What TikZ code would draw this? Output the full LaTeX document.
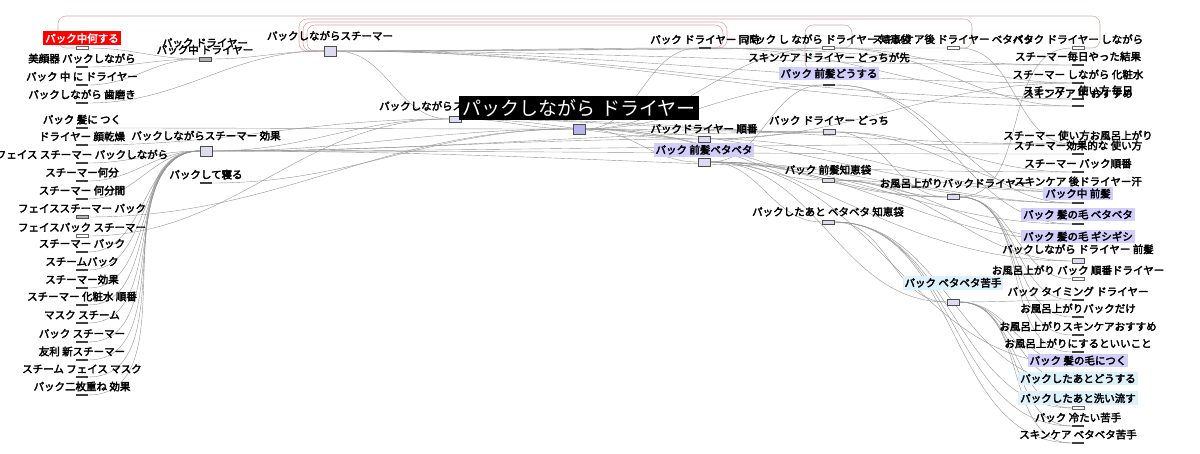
\documentclass[tikz,border=0pt]{standalone}
\usepackage{fontspec}
\newfontfamily\jp{Noto Sans CJK JP}[AutoFakeBold=3]
\usetikzlibrary{positioning}
\pgfdeclarelayer{back}
\pgfsetlayers{back,main}
\definecolor{lav}{HTML}{DCDCF0}
\definecolor{lavdark}{HTML}{B6B2EE}
\definecolor{hilite}{HTML}{D2CEFB}
\definecolor{aqua}{HTML}{DDF1FA}
\definecolor{pinkline}{HTML}{D9A2A2}

\begin{document}
\begin{tikzpicture}[x=1pt, y=-1pt,
        kw/.style={font=\jp\bfseries\fontsize{10.5}{10.5}\selectfont, inner sep=1pt},
        hl/.style={kw, fill=hilite, inner sep=2pt},
        hlc/.style={kw, fill=aqua, inner sep=2pt},
        hot/.style={kw, fill=red, text=white, inner sep=2pt},
        lead/.style={font=\jp\fontsize{19}{19}\selectfont, fill=black, text=white, inner sep=3pt},
        bar/.style={fill=black!75, minimum width=12pt, minimum height=2.5pt, inner sep=0pt},
        hollow/.style={draw=black!60, fill=white, minimum width=12pt, minimum height=3pt, inner sep=0pt},
        dim/.style={draw=black!70, fill=black!30, minimum width=12pt, minimum height=#1, inner sep=0pt},
        dim/.default=4pt,
        hub/.style={draw=black!70, fill=lav, minimum width=12pt, minimum height=#1, inner sep=0pt},
        hub/.default=10pt,
        link/.style={draw=black!42, line width=.4pt, out=0, in=180},
        loopline/.style={draw=pinkline, line width=.55pt, rounded corners=8pt}]
    \useasboundingbox (0,0) rectangle (1200,454);

    % left column
    \node (m1) [hollow] at (82,48) {};
    \node (m2) [bar] at (82,67) {};
    \node (m3) [bar] at (82,85) {};
    \node (m4) [bar] at (82,103) {};
    \node (m5) [bar] at (82,128) {};
    \node (m6) [bar] at (82,145) {};
    \node (m7) [bar] at (82,163) {};
    \node (m8) [bar] at (82,181) {};
    \node (m9) [bar] at (82,199) {};
    \node (m10) [dim=3pt] at (82,217) {};
    \node (m11) [hollow] at (82,236) {};
    \node (m12) [bar] at (82,252) {};
    \node (m13) [bar] at (82,270) {};
    \node (m14) [bar] at (82,288) {};
    \node (m15) [bar] at (82,305) {};
    \node (m16) [bar] at (82,323) {};
    \node (m17) [bar] at (82,342) {};
    \node (m18) [bar] at (82,360) {};
    \node (m19) [bar] at (82,377) {};
    \node (m20) [bar] at (82,395) {};

    % middle
    \node (m21) [dim] at (205,59) {};
    \node (m22) [hub] at (206,151) {};
    \node (m23) [bar] at (206,183) {};
    \node (m24) [hub] at (330,51) {};
    \node (m25) [hub=6pt] at (455,119) {};
    \node (m26) [hub, fill=lavdark] at (579,129) {};
    \node (m27) [hub=6pt] at (704,139) {};
    \node (m28) [hub=8pt] at (704,162) {};
    \node (m29) [bar] at (705,48) {};
    \node (m30) [hollow] at (828,48) {};
    \node (m31) [bar] at (829,70) {};
    \node (m32) [bar] at (829,85) {};
    \node (m33) [hub=5pt] at (829,132) {};
    \node (m34) [hollow] at (953,48) {};
    \node (m35) [hollow] at (1078,48) {};
    \node (m36) [hub=4pt] at (828,180) {};
    \node (m37) [hub=4pt] at (828,222) {};
    \node (m38) [hub=5pt] at (953,197) {};
    \node (m39) [hub=6pt] at (953,302) {};

    % right column
    \node (m40) [bar] at (1078,65) {};
    \node (m41) [bar] at (1078,83) {};
    \node (m42) [bar] at (1078,99) {};
    \node (m43) [bar] at (1078,106) {};
    \node (m44) [bar] at (1078,144) {};
    \node (m45) [bar] at (1078,154) {};
    \node (m46) [bar] at (1078,172) {};
    \node (m47) [bar] at (1078,192) {};
    \node (m48) [bar] at (1078,203) {};
    \node (m49) [bar] at (1078,224) {};
    \node (m50) [bar] at (1078,240) {};
    \node (m51) [hub=5pt] at (1078,261) {};
    \node (m52) [hollow] at (1078,279) {};
    \node (m53) [bar] at (1078,300) {};
    \node (m54) [bar] at (1078,317) {};
    \node (m55) [bar] at (1078,335) {};
    \node (m56) [bar] at (1078,352) {};
    \node (m57) [bar] at (1078,364) {};
    \node (m58) [bar] at (1078,382) {};
    \node (m59) [hollow] at (1078,408) {};
    \node (m60) [bar] at (1078,426) {};
    \node (m61) [bar] at (1078,443) {};

    % labels
    \node (t1) [hot, above=1pt of m1] {パック中何する};
    \node (t2) [kw, above=1pt of m2] {美顔器 パックしながら};
    \node (t3) [kw, above=1pt of m3] {パック 中 に ドライヤー};
    \node (t4) [kw, above=1pt of m4] {パックしながら 歯磨き};
    \node (t5) [kw, above=1pt of m5] {パック 髪に つく};
    \node (t6) [kw, above=1pt of m6] {ドライヤー 顔乾燥};
    \node (t7) [kw, above=1pt of m7] {フェイス スチーマー パックしながら};
    \node (t8) [kw, above=1pt of m8] {スチーマー何分};
    \node (t9) [kw, above=1pt of m9] {スチーマー 何分間};
    \node (t10) [kw, above=1pt of m10] {フェイススチーマー パック};
    \node (t11) [kw, above=1pt of m11] {フェイスパック スチーマー};
    \node (t12) [kw, above=1pt of m12] {スチーマー パック};
    \node (t13) [kw, above=1pt of m13] {スチームパック};
    \node (t14) [kw, above=1pt of m14] {スチーマー効果};
    \node (t15) [kw, above=1pt of m15] {スチーマー 化粧水 順番};
    \node (t16) [kw, above=1pt of m16] {マスク スチーム};
    \node (t17) [kw, above=1pt of m17] {パック スチーマー};
    \node (t18) [kw, above=1pt of m18] {友利 新スチーマー};
    \node (t19) [kw, above=1pt of m19] {スチーム フェイス マスク};
    \node (t20) [kw, above=1pt of m20] {パック二枚重ね 効果};

    \node (t21) [kw, above=1pt of m21] {パック中 ドライヤー};
    \node (t21b) [kw, above=-5pt of t21] {パック ドライヤー};
    \node (t22) [kw, above=4pt of m22] {パックしながらスチーマー 効果};
    \node (t23) [kw, above=1pt of m23] {パックして寝る};
    \node (t24) [kw, above=4pt of m24] {パックしながらスチーマー};
    \node (t25) [kw, anchor=west] at (378,106) {パックしながらスキンケア};
    \node (t26) [lead, above=4pt of m26] {パックしながら\hspace{.3em}ドライヤー};
    \node (t27) [kw, above=1pt of m27] {パックドライヤー 順番};
    \node (t28) [hl, above=1pt of m28] {パック 前髪ベタベタ};
    \node (t29) [kw, above=1pt of m29] {パック ドライヤー 同時};
    \node (t30) [kw, above=1pt of m30] {パック し ながら ドライヤー 知恵袋};
    \node (t34) [kw, above=1pt of m34] {スキンケア後 ドライヤー ベタベタ};
    \node (t35) [kw, above=1pt of m35] {パック ドライヤー しながら};
    \node (t31) [kw, above=5pt of m31] {スキンケア ドライヤー どっちが先};
    \node (t32) [hl, above=3pt of m32] {パック 前髪どうする};
    \node (t33) [kw, above=3pt of m33] {パック ドライヤー どっち};
    \node (t36) [kw, above=2pt of m36] {パック 前髪知恵袋};
    \node (t37) [kw, above=2pt of m37] {パックしたあと ベタベタ 知恵袋};
    \node (t38) [kw, above=5pt of m38] {お風呂上がりパックドライヤー};
    \node (t39) [hlc, above=9pt of m39] {パック ベタベタ苦手};

    \node (t40) [kw, above=1pt of m40] {スチーマー毎日やった結果};
    \node (t41) [kw, above=1pt of m41] {スチーマー しながら 化粧水};
    \node (t42) [kw, above=1pt of m42] {スチーマー 使い方 毎日};
    \node (t43) [kw, above=5pt of m43] {スキンケア 中 おすすめ};
    \node (t44) [kw, above=1pt of m44] {スチーマー 使い方お風呂上がり};
    \node (t45) [kw, above=1pt of m45] {スチーマー効果的な 使い方};
    \node (t46) [kw, above=1pt of m46] {スチーマー パック順番};
    \node (t47) [kw, above=3pt of m47] {スキンケア 後ドライヤー汗};
    \node (t48) [hl, above=1pt of m48] {パック中 前髪};
    \node (t49) [hl, above=1pt of m49] {パック 髪の毛 ベタベタ};
    \node (t50) [hl, above=-5pt of m50] {パック 髪の毛 ギシギシ};
    \node (t51) [kw, above=3pt of m51] {パックしながら ドライヤー 前髪};
    \node (t52) [kw, above=1pt of m52] {お風呂上がり パック 順番ドライヤー};
    \node (t53) [kw, above=1pt of m53] {パック タイミング ドライヤー};
    \node (t54) [kw, above=1pt of m54] {お風呂上がりパックだけ};
    \node (t55) [kw, above=1pt of m55] {お風呂上がりスキンケアおすすめ};
    \node (t56) [kw, above=1pt of m56] {お風呂上がりにするといいこと};
    \node (t57) [hl, above=-5pt of m57] {パック 髪の毛につく};
    \node (t58) [hlc, above=-5pt of m58] {パックしたあとどうする};
    \node (t59) [hlc, above=1pt of m59] {パックしたあと洗い流す};
    \node (t60) [kw, above=1pt of m60] {パック 冷たい苦手};
    \node (t61) [kw, above=1pt of m61] {スキンケア ベタベタ苦手};

    \begin{pgfonlayer}{back}
    % loops over the top
    \draw[loopline] (m1.west) -| (58,16) -| (1100,48) -- (m35.east);
    \draw[loopline] (m24.west) -| (299,19) -| (972,48) -- (m34.east);
    \draw[loopline] (m24.west) -| (303,22) -| (727,48) -- (m29.east);
    \draw[loopline] (m24.west) -| (307,25) -| (723,48) -- (m29.east);
    \draw[loopline] (m31.west) -| (805,25) -| (852,48) -- (m30.east);

    \path[every edge/.style={link}]
        (m1.east) edge (m21.west)
        (m2.east) edge (m21.west)
        (m3.east) edge (m21.west)
        (m4.east) edge (m24.west)
        (m5.east) edge (m26.west)
        (m6.east) edge (m25.west)
        (m7.east) edge (m22.west)
        (m8.east) edge (m22.west)
        (m9.east) edge (m22.west)
        (m10.east) edge (m26.west)
        (m11.east) edge (m25.west)
        (m12.east) edge (m22.west)
        (m13.east) edge (m22.west)
        (m14.east) edge (m22.west)
        (m15.east) edge (m22.west)
        (m16.east) edge (m22.west)
        (m17.east) edge (m22.west)
        (m18.east) edge (m22.west)
        (m19.east) edge (m22.west)
        (m20.east) edge (m22.west)
        (m21.east) edge (m24.west)
        (m23.east) edge (m26.west)
        (m22.east) edge (m25.west)
        (m22.east) edge (m26.west)
        (m22.east) edge (m27.west)
        (m22.east) edge (m33.west)
        (m22.east) edge (m44.west)
        (m22.east) edge (m45.west)
        (m22.east) edge (m46.west)
        (m24.east) edge (m25.west)
        (m24.east) edge (m29.west)
        (m24.east) edge (m30.west)
        (m24.east) edge (m34.west)
        (m24.east) edge (m40.west)
        (m24.east) edge (m41.west)
        (m24.east) edge (m42.west)
        (m24.east) edge (m43.west)
        (m25.east) edge (m26.west)
        (m25.east) edge (m27.west)
        (m25.east) edge (m33.west)
        (m25.east) edge (m44.west)
        (m26.east) edge (m27.west)
        (m26.east) edge (m28.west)
        (m26.east) edge (m29.west)
        (m26.east) edge (m30.west)
        (m26.east) edge (m32.west)
        (m26.east) edge (m33.west)
        (m26.east) edge (m38.west)
        (m26.east) edge (m47.west)
        (m26.east) edge (m51.west)
        (m27.east) edge (m33.west)
        (m27.east) edge (m41.west)
        (m27.east) edge (m47.west)
        (m28.east) edge (m32.west)
        (m28.east) edge (m36.west)
        (m28.east) edge (m37.west)
        (m28.east) edge (m38.west)
        (m28.east) edge (m39.west)
        (m28.east) edge (m48.west)
        (m28.east) edge (m49.west)
        (m28.east) edge (m50.west)
        (m28.east) edge (m57.west)
        (m29.east) edge (m40.west)
        (m29.east) edge (m42.west)
        (m30.east) edge (m41.west)
        (m30.east) edge (m43.west)
        (m32.east) edge (m48.west)
        (m32.east) edge (m49.west)
        (m33.east) edge (m38.west)
        (m33.east) edge (m46.west)
        (m33.east) edge (m47.west)
        (m34.east) edge (m44.west)
        (m36.east) edge (m38.west)
        (m36.east) edge (m48.west)
        (m36.east) edge (m50.west)
        (m36.east) edge (m51.west)
        (m37.east) edge (m39.west)
        (m37.east) edge (m58.west)
        (m37.east) edge (m59.west)
        (m37.east) edge (m60.west)
        (m37.east) edge (m61.west)
        (m38.east) edge (m35.west)
        (m38.east) edge (m52.west)
        (m38.east) edge (m53.west)
        (m38.east) edge (m54.west)
        (m38.east) edge (m55.west)
        (m38.east) edge (m56.west)
        (m39.east) edge (m53.west)
        (m39.east) edge (m57.west)
        (m39.east) edge (m58.west)
        (m39.east) edge (m59.west)
        (m39.east) edge (m60.west)
        (m39.east) edge (m61.west);
    \end{pgfonlayer}
\end{tikzpicture}
\end{document}
